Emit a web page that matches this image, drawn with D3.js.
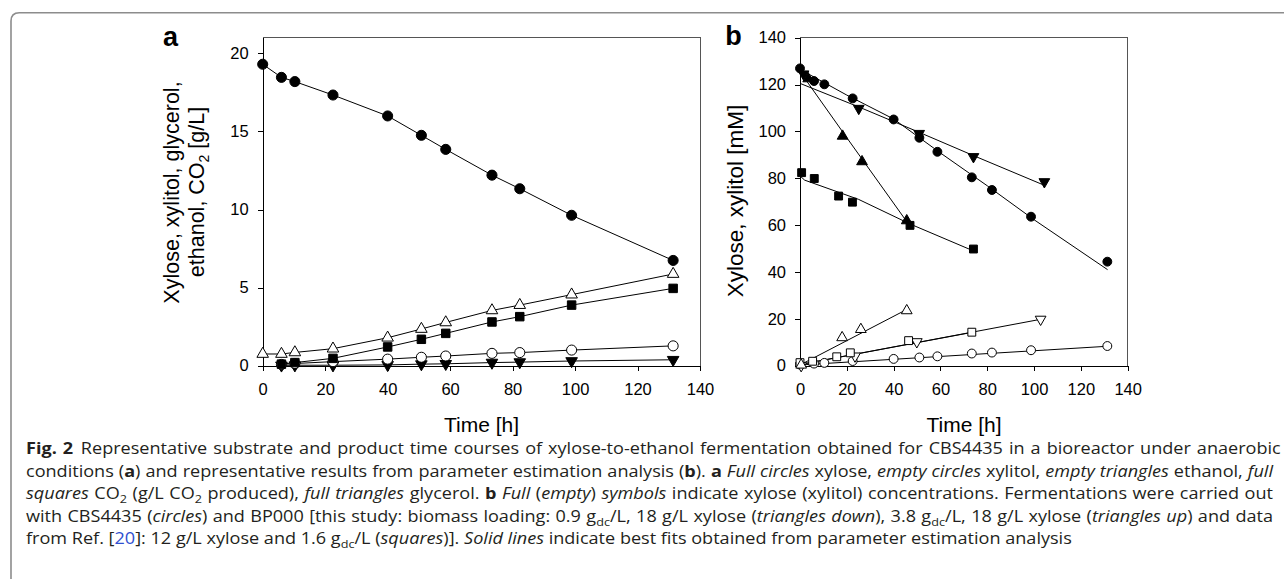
<!DOCTYPE html>
<html>
<head>
<meta charset="utf-8">
<script src="https://cdn.jsdelivr.net/npm/d3@7"></script>
<style>
  html, body { margin: 0; padding: 0; background: #fff; }
  svg { display: block; }
  .ax text { font-family: "Liberation Sans", Arial, sans-serif; font-size: 16.5px; fill: #000; }
  .ax path, .ax line { stroke: #000; stroke-width: 1; shape-rendering: crispEdges; }
</style>
</head>
<body>
<svg id="chart" width="1284" height="579"></svg>
<script>
// ---------------- Panel a data (g/L) ----------------
const timeA     = [0, 6, 10.3, 22.5, 40, 50.8, 58.6, 73.4, 82.3, 98.9, 131.4];
const xyloseA   = [19.3, 18.46, 18.19, 17.33, 15.99, 14.75, 13.85, 12.2, 11.33, 9.63, 6.74];
const ethanolA  = [0.75, 0.75, 0.85, 1.09, 1.79, 2.35, 2.77, 3.54, 3.88, 4.55, 5.87];
const co2A      = [null, 0.1, 0.2, 0.47, 1.2, 1.69, 2.07, 2.8, 3.14, 3.88, 4.95];
const xylitolA  = [null, 0.08, 0.14, 0.26, 0.42, 0.54, 0.62, 0.79, 0.84, 1.0, 1.27];
const glycerolA = [null, 0.02, 0.03, 0.03, 0.05, 0.1, 0.12, 0.2, 0.23, 0.3, 0.38];

// ---------------- Panel b data (mM) ----------------
const timeCirc     = [0, 6, 10.4, 22.5, 40, 51, 58.7, 73.4, 82, 98.7, 131.3];
const xyloseCirc   = [126.9, 121.5, 120.1, 114.1, 105.1, 97.3, 91.3, 80.4, 75.0, 63.6, 44.4];
const xylitolCirc  = [0.5, 0.9, 1.2, 2.0, 2.9, 3.5, 4.0, 5.2, 5.6, 6.6, 8.4];
const timeTriDown    = [1.5, 25.1, 50.9, 74.1, 104.4];
const xyloseTriDown  = [124.5, 109.8, 99.1, 89.2, 78.5];
const timeTriDownX   = [0.5, 23.5, 49.9, 102.8];
const xylitolTriDown = [0.0, 4.1, 10.2, 19.8];
const timeTriUp      = [3.5, 18.2, 26.5, 45.6];
const xyloseTriUp    = [122.5, 98.0, 87.1, 61.9];
const timeTriUpX     = [0.5, 18.0, 26.0, 45.6];
const xylitolTriUp   = [0.3, 12.0, 15.5, 23.5];
const timeSq       = [0.7, 6.1, 16.5, 22.4, 47, 74.1];
const xyloseSq     = [82.4, 79.9, 72.4, 69.8, 59.9, 49.8];
const timeSqX      = [0, 5.4, 15.7, 21.5, 46.4, 73.4];
const xylitolSq    = [1.3, 1.9, 3.8, 5.5, 10.7, 14.3];

// best-fit curves
const fitCircT = [0, 20, 40, 60, 80, 100, 131.4];
const fitCircV = [126.5, 115.5, 105.3, 90.8, 76.8, 62.3, 41.0];
const fitCircXT = [0, 131.4];
const fitCircXV = [0.3, 8.3];
const fitTriDownT = [0, 25, 50, 75, 104.4];
const fitTriDownV = [120.5, 110.5, 100.0, 89.3, 77.0];
const fitTriDownXT = [0, 102.8];
const fitTriDownXV = [0.5, 19.8];
const fitTriUpT = [0, 20, 45.6];
const fitTriUpV = [125.5, 97.3, 61.5];
const fitTriUpXT = [0, 45.6];
const fitTriUpXV = [0.3, 24.0];
const fitSqT = [0, 2, 25, 47, 74.1];
const fitSqV = [81.0, 79.2, 71.0, 60.5, 49.0];
const fitSqXT = [0, 73.4];
const fitSqXV = [0.5, 14.2];

// ticks
const ticksX = [0, 20, 40, 60, 80, 100, 120, 140];
const ticksYA = [0, 5, 10, 15, 20];
const ticksYB = [0, 20, 40, 60, 80, 100, 120, 140];

// caption
const captionLines = [
  [["b","Fig. 2"],["n","Representative substrate and product time courses of xylose-to-ethanol fermentation obtained for CBS4435 in a bioreactor under anaerobic",7]],
  [["n","conditions ("],["b","a"],["n",") and representative results from parameter estimation analysis ("],["b","b"],["n","). "],["b","a"],["n"," "],["i","Full circles"],["n"," xylose, "],["i","empty circles"],["n"," xylitol, "],["i","empty triangles"],["n"," ethanol, "],["i","full"]],
  [["i","squares"],["n"," CO"],["s","2"],["n"," (g/L CO"],["s","2"],["n"," produced), "],["i","full triangles"],["n"," glycerol. "],["b","b"],["n"," "],["i","Full"],["n"," ("],["i","empty"],["n",") "],["i","symbols"],["n"," indicate xylose (xylitol) concentrations. Fermentations were carried out"]],
  [["n","with CBS4435 ("],["i","circles"],["n",") and BP000 [this study: biomass loading: 0.9 g"],["s","dc"],["n","/L, 18 g/L xylose ("],["i","triangles down"],["n","), 3.8 g"],["s","dc"],["n","/L, 18 g/L xylose ("],["i","triangles up"],["n",") and data"]],
  [["n","from Ref. ["],["l","20"],["n","]: 12 g/L xylose and 1.6 g"],["s","dc"],["n","/L ("],["i","squares"],["n",")]. "],["i","Solid lines"],["n"," indicate best fits obtained from parameter estimation analysis"]]
];

const svg = d3.select("#chart");
const FONT = '"Liberation Sans", Arial, sans-serif';

// outer frame
svg.append("path")
  .attr("d", "M11,590 L11,21 Q11,12.7 19.3,12.7 L1300,12.7")
  .attr("fill", "none").attr("stroke", "#8c8c8c").attr("stroke-width", 1.6);

// scales
const xA = d3.scaleLinear().domain([0, 140]).range([262.7, 700]);
const yA = d3.scaleLinear().domain([0, 21]).range([365.7, 37.7]);
const xB = d3.scaleLinear().domain([0, 140]).range([800, 1127.7]);
const yB = d3.scaleLinear().domain([0, 140]).range([365.7, 37.7]);

function frame(x, y) {
  const [x0, x1] = x.range(), [y0, y1] = y.range();
  svg.append("path")
    .attr("d", `M${x0},${y1} L${x1},${y1} L${x1},${y0}`)
    .attr("fill", "none").attr("stroke", "#555").attr("stroke-width", 1)
    .attr("shape-rendering", "crispEdges");
}
function axes(x, y, yt) {
  svg.append("g").attr("class", "ax").attr("transform", `translate(0,${y.range()[0]})`)
    .call(d3.axisBottom(x).tickValues(ticksX).tickSize(5).tickSizeOuter(0).tickPadding(12.3).tickFormat(d3.format("d")));
  svg.append("g").attr("class", "ax").attr("transform", `translate(${x.range()[0]},0)`)
    .call(d3.axisLeft(y).tickValues(yt).tickSize(5).tickSizeOuter(0).tickPadding(9).tickFormat(d3.format("d")));
}
frame(xA, yA); frame(xB, yB);
axes(xA, yA, ticksYA); axes(xB, yB, ticksYB);

function line(x, y, ts, vs) {
  const pts = ts.map((t, i) => [t, vs[i]]).filter(p => p[1] != null);
  svg.append("path")
    .attr("d", d3.line().x(p => x(p[0])).y(p => y(p[1]))(pts))
    .attr("fill", "none").attr("stroke", "#000").attr("stroke-width", 1);
}
const shapes = {
  circle: d3.symbolCircle, square: d3.symbolSquare, triUp: d3.symbolTriangle, triDown: d3.symbolTriangle
};
function marks(x, y, ts, vs, shape, filled, size) {
  const sym = d3.symbol().type(shapes[shape]).size(size);
  const pts = ts.map((t, i) => [t, vs[i]]).filter(p => p[1] != null);
  svg.append("g").selectAll("path").data(pts).join("path")
    .attr("d", sym)
    .attr("transform", p => `translate(${x(p[0])},${y(p[1])})` + (shape === "triDown" ? " rotate(180)" : ""))
    .attr("fill", filled ? "#000" : "#fff")
    .attr("stroke", "#000").attr("stroke-width", 1);
}

// ---- panel a ----
const sA = { circle: 80, square: 72, tri: 58 };
[glycerolA, xylitolA, co2A, ethanolA, xyloseA].forEach(v => line(xA, yA, timeA, v));
marks(xA, yA, timeA, glycerolA, "triDown", true, sA.tri);
marks(xA, yA, timeA, xylitolA, "circle", false, sA.circle);
marks(xA, yA, timeA, co2A, "square", true, sA.square);
marks(xA, yA, timeA, ethanolA, "triUp", false, sA.tri);
marks(xA, yA, timeA, xyloseA, "circle", true, sA.circle);

// ---- panel b ----
const sB = { circle: 62, square: 62, tri: 50 };
[[fitCircT,fitCircV],[fitCircXT,fitCircXV],[fitTriDownT,fitTriDownV],[fitTriDownXT,fitTriDownXV],
 [fitTriUpT,fitTriUpV],[fitTriUpXT,fitTriUpXV],[fitSqT,fitSqV],[fitSqXT,fitSqXV]]
 .forEach(([t, v]) => line(xB, yB, t, v));
marks(xB, yB, timeCirc, xylitolCirc, "circle", false, sB.circle);
marks(xB, yB, timeTriDownX, xylitolTriDown, "triDown", false, sB.tri);
marks(xB, yB, timeSqX, xylitolSq, "square", false, sB.square);
marks(xB, yB, timeTriUpX, xylitolTriUp, "triUp", false, sB.tri);
marks(xB, yB, timeSq, xyloseSq, "square", true, sB.square);
marks(xB, yB, timeTriUp, xyloseTriUp, "triUp", true, sB.tri);
marks(xB, yB, timeTriDown, xyloseTriDown, "triDown", true, sB.tri);
marks(xB, yB, timeCirc, xyloseCirc, "circle", true, sB.circle);

// ---- panel labels & titles ----
svg.append("text").attr("x", 170.5).attr("y", 46).attr("text-anchor", "middle")
  .style("font-family", FONT).style("font-weight", "bold").style("font-size", "27px").text("a");
svg.append("text").attr("x", 733.5).attr("y", 44.5).attr("text-anchor", "middle")
  .style("font-family", FONT).style("font-weight", "bold").style("font-size", "27px").text("b");

function title(x, y, rot, parts, size) {
  const t = svg.append("text")
    .attr("transform", `translate(${x},${y})` + (rot ? " rotate(-90)" : ""))
    .attr("text-anchor", "middle")
    .style("font-family", FONT).style("font-size", size + "px");
  let shifted = false;
  parts.forEach(([k, s]) => {
    const ts = t.append("tspan").text(s);
    if (k === "s") { ts.attr("dy", size * 0.25).style("font-size", (size * 0.65) + "px"); shifted = true; }
    else if (shifted) { ts.attr("dy", -size * 0.25); shifted = false; }
  });
}
title(179, 192.5, true, [["n","Xylose, xylitol, glycerol,"]], 21.5);
title(203.5, 192, true, [["n","ethanol, CO"],["s","2"],["n"," [g/L]"]], 21.5);
title(743, 201, true, [["n","Xylose, xylitol [mM]"]], 22.5);
title(481.5, 432, false, [["n","Time [h]"]], 21);
title(964, 432, false, [["n","Time [h]"]], 21);

// ---- caption ----
const capFont = '"Open Sans", "Noto Sans", sans-serif';
const capSize = 16.4;
const capX = 26, capRight = 1273, capBase = 454.3, capStep = 22.5;
const capNodes = captionLines.map((segs, i) => {
  const t = svg.append("text")
    .attr("transform", `translate(${capX},${capBase + i * capStep})`)
    .style("font-family", capFont).style("font-size", capSize + "px").attr("fill", "#231f20");
  let shifted = false;
  segs.forEach(([k, s, dx]) => {
    const ts = t.append("tspan").text(s);
    if (dx) ts.attr("dx", dx);
    if (k === "b") ts.style("font-weight", "bold");
    if (k === "i") ts.style("font-style", "italic");
    if (k === "l") ts.attr("fill", "#2f4fd0");
    if (k === "s") { ts.attr("dy", 4).style("font-size", (capSize * 0.7) + "px"); shifted = true; }
    else if (shifted) { ts.attr("dy", -4); shifted = false; }
  });
  return t;
});
// horizontal scale from the unjustified last line, then justify the others
const w5 = capNodes[4].node().getComputedTextLength();
const k = (1072 - capX) / w5;
capNodes.forEach((t, i) => {
  t.attr("transform", `translate(${capX},${capBase + i * capStep}) scale(${k},1)`);
  if (i < 4) {
    const w = t.node().getComputedTextLength();
    const txt = t.text();
    const n = (txt.match(/ /g) || []).length;
    const ws = ((capRight - capX) / k - w) / n;
    t.style("word-spacing", ws + "px");
  }
});
</script>
</body>
</html>
